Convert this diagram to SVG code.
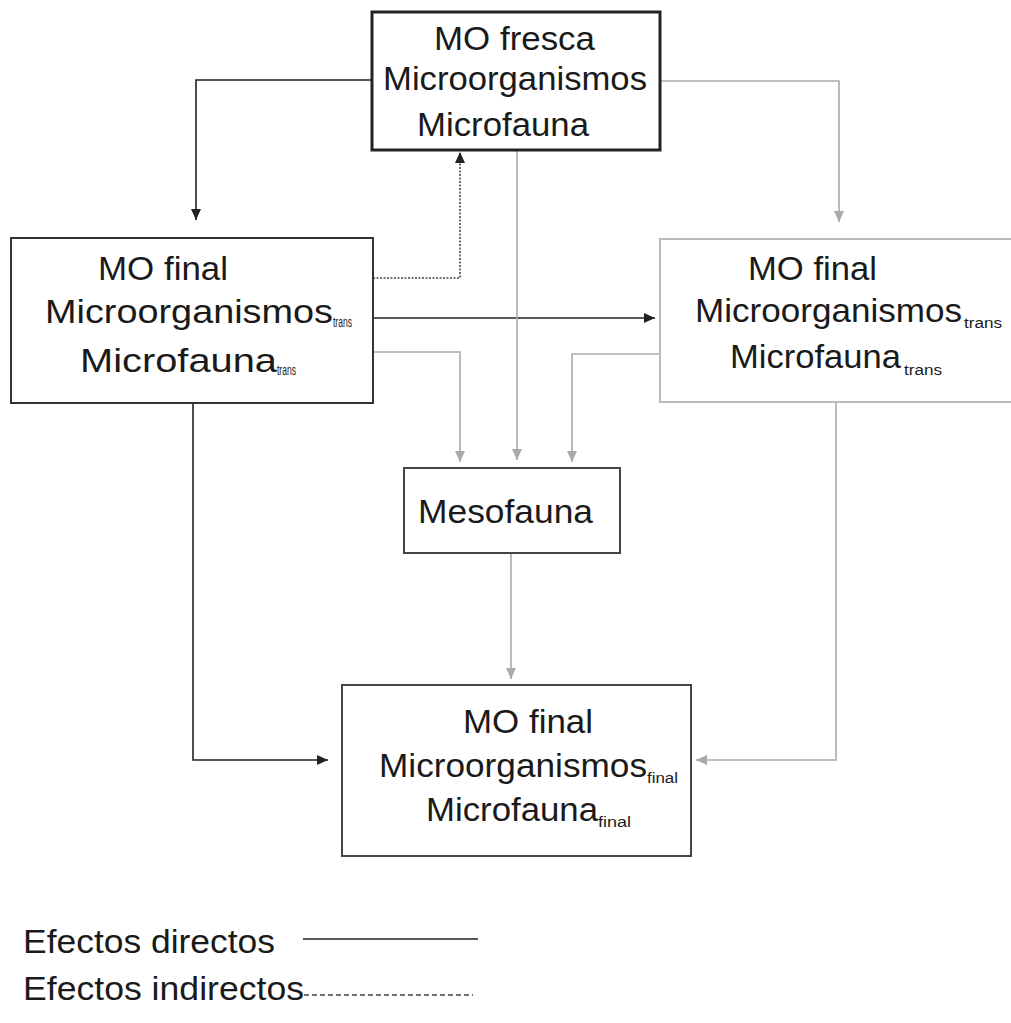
<svg xmlns="http://www.w3.org/2000/svg" width="1011" height="1023" viewBox="0 0 1011 1023">
<style>
  text { font-family: "Liberation Sans", Arial, sans-serif; fill: #1a1a1a; }
  .t { font-size: 34px; }
  .s { font-size: 14px; }
  .box { fill: #fff; }
  .blk { fill: none; stroke: #222; stroke-width: 1.6; }
  .gry { fill: none; stroke: #aaa; stroke-width: 1.6; }
  .dot { fill: none; stroke: #444; stroke-width: 1.6; stroke-dasharray: 2 1.5; }
</style>
<defs>
  <marker id="ab" markerUnits="userSpaceOnUse" markerWidth="12" markerHeight="10" refX="11" refY="5" orient="auto">
    <path d="M0,0 L11,5 L0,10 Z" fill="#222"/>
  </marker>
  <marker id="ag" markerUnits="userSpaceOnUse" markerWidth="12" markerHeight="10" refX="11" refY="5" orient="auto">
    <path d="M0,0 L11,5 L0,10 Z" fill="#aaa"/>
  </marker>
</defs>
<rect width="1011" height="1023" fill="#fff"/>

<g id="connectors">
  <path class="blk" d="M372,80 H196 V220" marker-end="url(#ab)"/>
  <path class="dot" d="M373,278 H460 V152" marker-end="url(#ab)"/>
  <path class="blk" d="M373,318 H655" marker-end="url(#ab)"/>
  <path class="gry" d="M660,81 H839 V222" marker-end="url(#ag)"/>
  <path class="gry" d="M373,352 H460 V462" marker-end="url(#ag)"/>
  <path class="gry" d="M517,150 V460" marker-end="url(#ag)"/>
  <path class="gry" d="M660,354 H572 V462" marker-end="url(#ag)"/>
  <path class="gry" d="M511,553 V679" marker-end="url(#ag)"/>
  <path class="blk" d="M193,403 V760 H328" marker-end="url(#ab)"/>
  <path class="gry" d="M836,402 V760 H696" marker-end="url(#ag)"/>
</g>

<g id="node-top">
  <rect class="box" x="372" y="12" width="288" height="138" stroke="#222" stroke-width="3"/>
  <text class="t" x="434" y="50" textLength="161" lengthAdjust="spacingAndGlyphs">MO fresca</text>
  <text class="t" x="383" y="90" textLength="264" lengthAdjust="spacingAndGlyphs">Microorganismos</text>
  <text class="t" x="417" y="136" textLength="172" lengthAdjust="spacingAndGlyphs">Microfauna</text>
</g>

<g id="node-left">
  <rect class="box" x="11" y="238" width="362" height="165" stroke="#333" stroke-width="2"/>
  <text class="t" x="98" y="280" textLength="130" lengthAdjust="spacingAndGlyphs">MO final</text>
  <text class="t" x="45" y="323" textLength="288" lengthAdjust="spacingAndGlyphs">Microorganismos</text>
  <text class="s" x="333" y="327" textLength="19" lengthAdjust="spacingAndGlyphs">trans</text>
  <text class="t" x="80" y="372" textLength="197" lengthAdjust="spacingAndGlyphs">Microfauna</text>
  <text class="s" x="277" y="375" textLength="19" lengthAdjust="spacingAndGlyphs">trans</text>
</g>

<g id="node-right">
  <path d="M1011,239 H660 V402 H1011" fill="#fff" stroke="#bbb" stroke-width="2"/>
  <text class="t" x="748" y="280" textLength="129" lengthAdjust="spacingAndGlyphs">MO final</text>
  <text class="t" x="695" y="322" textLength="267" lengthAdjust="spacingAndGlyphs">Microorganismos</text>
  <text class="s" x="964" y="328" textLength="38" lengthAdjust="spacingAndGlyphs">trans</text>
  <text class="t" x="730" y="368" textLength="171" lengthAdjust="spacingAndGlyphs">Microfauna</text>
  <text class="s" x="904" y="375" textLength="38" lengthAdjust="spacingAndGlyphs">trans</text>
</g>

<g id="node-meso">
  <rect class="box" x="404" y="468" width="216" height="85" stroke="#444" stroke-width="2"/>
  <text class="t" x="418" y="523" textLength="175" lengthAdjust="spacingAndGlyphs">Mesofauna</text>
</g>

<g id="node-bottom">
  <rect class="box" x="342" y="685" width="349" height="171" stroke="#444" stroke-width="2"/>
  <text class="t" x="463" y="733" textLength="130" lengthAdjust="spacingAndGlyphs">MO final</text>
  <text class="t" x="379" y="777" textLength="268" lengthAdjust="spacingAndGlyphs">Microorganismos</text>
  <text class="s" x="647" y="783" textLength="31" lengthAdjust="spacingAndGlyphs">final</text>
  <text class="t" x="426" y="821" textLength="172" lengthAdjust="spacingAndGlyphs">Microfauna</text>
  <text class="s" x="598" y="827" textLength="33" lengthAdjust="spacingAndGlyphs">final</text>
</g>

<g id="legend">
  <text class="t" x="23" y="953" textLength="252" lengthAdjust="spacingAndGlyphs">Efectos directos</text>
  <line x1="303" y1="939" x2="478" y2="939" stroke="#222" stroke-width="1.6"/>
  <text class="t" x="23" y="1000" textLength="281" lengthAdjust="spacingAndGlyphs">Efectos indirectos</text>
  <line x1="304" y1="995" x2="473" y2="995" stroke="#444" stroke-width="1.3" stroke-dasharray="5 3"/>
</g>
</svg>
